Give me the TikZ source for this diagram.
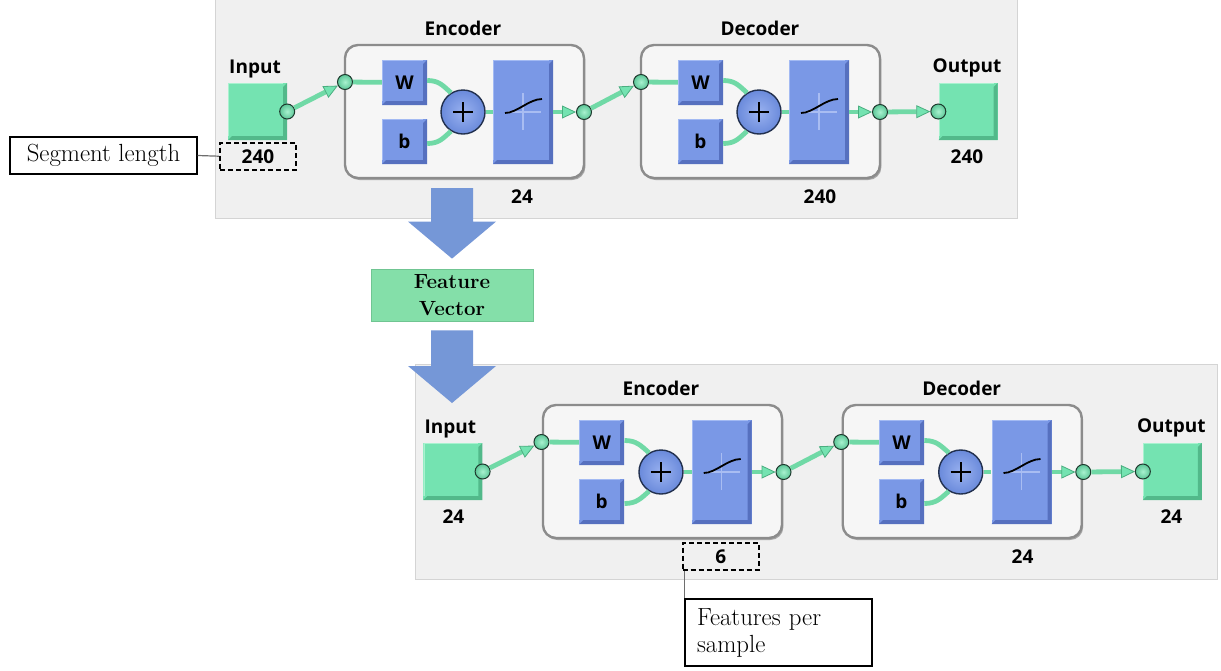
\documentclass[tikz,border=0pt]{standalone}
\usepackage{fontspec}
\newfontfamily\uifont{Open Sans}
\usetikzlibrary{arrows.meta,calc,shadows}

\definecolor{panelbg}{HTML}{F0F0F0}
\definecolor{panelrule}{HTML}{D4D4D4}
\definecolor{mint}{HTML}{74E3B1}
\definecolor{mintdark}{HTML}{52B98A}
\definecolor{mintlight}{HTML}{A8F2CF}
\definecolor{portouter}{HTML}{5CC697}
\definecolor{flowgreen}{HTML}{70D9A6}
\definecolor{arrowedge}{HTML}{4AAE80}
\definecolor{portedge}{HTML}{1E3A2E}
\definecolor{blueface}{HTML}{7A98E6}
\definecolor{bluedark}{HTML}{5670BF}
\definecolor{bluelight}{HTML}{A3BAF3}
\definecolor{suminner}{HTML}{9AB2F0}
\definecolor{sumouter}{HTML}{6A8ADB}
\definecolor{plusedge}{HTML}{22304E}
\definecolor{crossline}{HTML}{A9BDF2}
\definecolor{layerfill}{HTML}{F6F6F6}
\definecolor{layeredge}{HTML}{8C8C8C}
\definecolor{bigblue}{HTML}{7597D7}
\definecolor{fvfill}{HTML}{84DFA9}
\definecolor{fvedge}{HTML}{70C592}
\definecolor{leadergray}{HTML}{6E6E6E}

% raised-tile look: dark band bottom/right, light rim top/left
\newcommand\bevelpic[2]{%
  \fill[#1] (path picture bounding box.south west) -- (path picture bounding box.south east)
    -- (path picture bounding box.north east) -- ([shift={(-4pt,-4pt)}]path picture bounding box.north east)
    -- ([shift={(-4pt,4pt)}]path picture bounding box.south east) -- ([shift={(4pt,4pt)}]path picture bounding box.south west) -- cycle;
  \draw[#2, line width=1.2pt] ([shift={(0.6pt,4pt)}]path picture bounding box.south west)
    -- ([shift={(0.6pt,-0.6pt)}]path picture bounding box.north west)
    -- ([shift={(-4pt,-0.6pt)}]path picture bounding box.north east);}

\tikzset{
  uilabel/.style={font=\uifont\bfseries\fontsize{19}{19}\selectfont},
  lbl/.style={uilabel, anchor=base, inner sep=0pt},
  dashbox/.style={draw=black, dash pattern=on 5pt off 3pt, line width=2pt,
    minimum width=76pt, minimum height=27pt},
  insizebox/.style={},
  encsizebox/.style={},
  greenbox/.style={rectangle, fill=mint, minimum width=59pt, minimum height=57pt, inner sep=0pt,
    path picture={\bevelpic{mintdark}{mintlight}}},
  bluebox/.style={rectangle, fill=blueface, inner sep=0pt, minimum size=45pt, uilabel,
    path picture={\bevelpic{bluedark}{bluelight}}},
  tfbox/.style={rectangle, fill=blueface, inner sep=0pt, minimum width=60pt, minimum height=104pt,
    path picture={\bevelpic{bluedark}{bluelight}
      \draw[crossline, line width=1.2pt] ([yshift=19pt]path picture bounding box.center) -- ([yshift=-18pt]path picture bounding box.center);
      \draw[crossline, line width=1.2pt] ([xshift=-15pt]path picture bounding box.center) -- ([xshift=18pt]path picture bounding box.center);
      \draw[black, line width=1.8pt] ([shift={(-18pt,-1pt)}]path picture bounding box.center)
        .. controls ([shift={(-6pt,-1pt)}]path picture bounding box.center) and ([shift={(6pt,13pt)}]path picture bounding box.center)
        .. ([shift={(19pt,13pt)}]path picture bounding box.center);}},
  summer/.style={circle, minimum size=44pt, inner sep=0pt, draw=plusedge, line width=1.4pt,
    inner color=suminner, outer color=sumouter,
    path picture={
      \draw[black, line width=2.2pt] ([xshift=-10pt]path picture bounding box.center) -- ([xshift=10pt]path picture bounding box.center);
      \draw[black, line width=2.2pt] ([yshift=-10pt]path picture bounding box.center) -- ([yshift=10pt]path picture bounding box.center);}},
  port/.style={circle, minimum size=15pt, inner sep=0pt, draw=portedge, line width=1pt,
    inner color=mintlight, outer color=portouter},
  layer/.style={rectangle, rounded corners=13pt, draw=layeredge, line width=2.4pt, fill=layerfill,
    minimum width=239pt, minimum height=133pt,
    drop shadow={shadow xshift=1.4pt, shadow yshift=-2pt, fill=black, opacity=0.3}},
  flow/.style={line width=4.8pt, draw=flowgreen},
  flowarrow/.style={flow, -{Triangle[length=14pt,width=13pt,line width=0.8pt,color=arrowedge,fill=mint]}},
  panel/.style={fill=panelbg, draw=panelrule, line width=1pt},
  fvbox/.style={rectangle, fill=fvfill, draw=fvedge, line width=0.8pt, minimum width=162pt,
    minimum height=52pt, inner sep=0pt, align=center, font=\bfseries\fontsize{20.5}{26.5}\selectfont},
  callout/.style={rectangle, draw=black, line width=1.2pt, fill=white, minimum width=187pt,
    font=\fontsize{24.8}{27}\selectfont},
  leader/.style={draw=leadergray, line width=1.2pt},
}

% one layer: weight, bias, summing junction, transfer function, ports
\newcommand\layerblock[2]{%
  \node[layer] (#1) at ({#2+119.5},111.5) {};
  \node[bluebox] (#1-W) at ({#2+59.5},82.5) {W};
  \node[bluebox] (#1-b) at ({#2+59.5},141.5) {b};
  \node[summer] (#1-sum) at ({#2+118},112) {};
  \node[tfbox] (#1-tf) at ({#2+178},112) {};
  \node[port] (#1-in) at (#2,82) {};
  \node[port] (#1-out) at ({#2+239},112) {};
  \draw[flow] (#1-in) -- (#1-W);
  \draw[flow] ([yshift=2pt]#1-W.east) .. controls +(12,0) and +(-8,-7) .. (#1-sum.122);
  \draw[flow] ([yshift=-2pt]#1-b.east) .. controls +(12,0) and +(-8,7) .. (#1-sum.-122);
  \draw[flow] (#1-sum) -- (#1-tf);
  \draw[flowarrow] (#1-tf) -- (#1-out);
}

% full autoencoder: input, encoder, decoder, output
\newcommand\aepanel[5]{%
  \node[greenbox] (#1-inbox) at (257.5,111.5) {};
  \node[port] (#1-inport) at (#1-inbox.east) {};
  \node[lbl] (#1-inlbl) at (255,73) {Input};
  \node[lbl, insizebox] (#1-insize) at (258,163) {#2};
  \layerblock{#1-enc}{345}
  \node[lbl] (#1-enclbl) at (463,35) {Encoder};
  \node[lbl, encsizebox] (#1-encsize) at (522,203) {#3};
  \layerblock{#1-dec}{641}
  \node[lbl] (#1-declbl) at (760,35) {Decoder};
  \node[lbl] (#1-decsize) at (820,203) {#4};
  \node[greenbox] (#1-outbox) at (968,111.5) {};
  \node[port] (#1-outport) at (#1-outbox.west) {};
  \node[lbl] (#1-outlbl) at (967,72.5) {Output};
  \node[lbl] (#1-outsize) at (967,163) {#5};
  \draw[flowarrow] (#1-inport) -- (#1-enc-in);
  \draw[flowarrow] (#1-enc-out) -- (#1-dec-in);
  \draw[flowarrow] (#1-dec-out) -- (#1-outport);
}

% wide block arrow from a start point straight down to a tip point
\newcommand\bigarrow[2]{%
  \fill[bigblue] let \p1=(#1), \p2=(#2) in
    (\x1-21pt,\y1) -- (\x1-21pt,\y2+37pt) -- (\x1-44pt,\y2+37pt) -- (\x1,\y2)
    -- (\x1+44pt,\y2+37pt) -- (\x1+21pt,\y2+37pt) -- (\x1+21pt,\y1) -- cycle;}

\begin{document}
\begin{tikzpicture}[x=1pt, y=-1pt]
  \useasboundingbox (0,0) rectangle (1221,670);

  % background panels
  \path[panel] (215,-2) rectangle (1017,218);
  \path[panel] (415,364) rectangle (1217,579);

  % first network: 240 -> 24 -> 240
  \begin{scope}[insizebox/.style={dashbox}]
    \aepanel{t}{240}{24}{240}{240}
  \end{scope}

  % second network: 24 -> 6 -> 24
  \begin{scope}[shift={(192.1,360)}, xscale=1.0127, encsizebox/.style={dashbox}]
    \aepanel{u}{24}{6}{24}{24}
  \end{scope}

  % feature vector between the two networks
  \node[fvbox] (fv) at (452,295) {Feature\\Vector};
  \coordinate (tstart) at (452,188);
  \coordinate (uentry) at (452,403);
  \bigarrow{tstart}{[yshift=10pt]fv.north}
  \bigarrow{[yshift=-9pt]fv.south}{uentry}

  % annotations
  \node[callout, minimum height=37pt] (seg) at (103.5,155.5) {Segment length};
  \draw[leader] (seg.east) -- (t-insize.west);
  \node[callout, minimum height=67pt, text width=163pt, align=left] (fps) at (778.5,632.5) {Features per\\sample};
  \draw[leader] (fps.north west) -- (fps.north west |- u-encsize.south);
\end{tikzpicture}
\end{document}
